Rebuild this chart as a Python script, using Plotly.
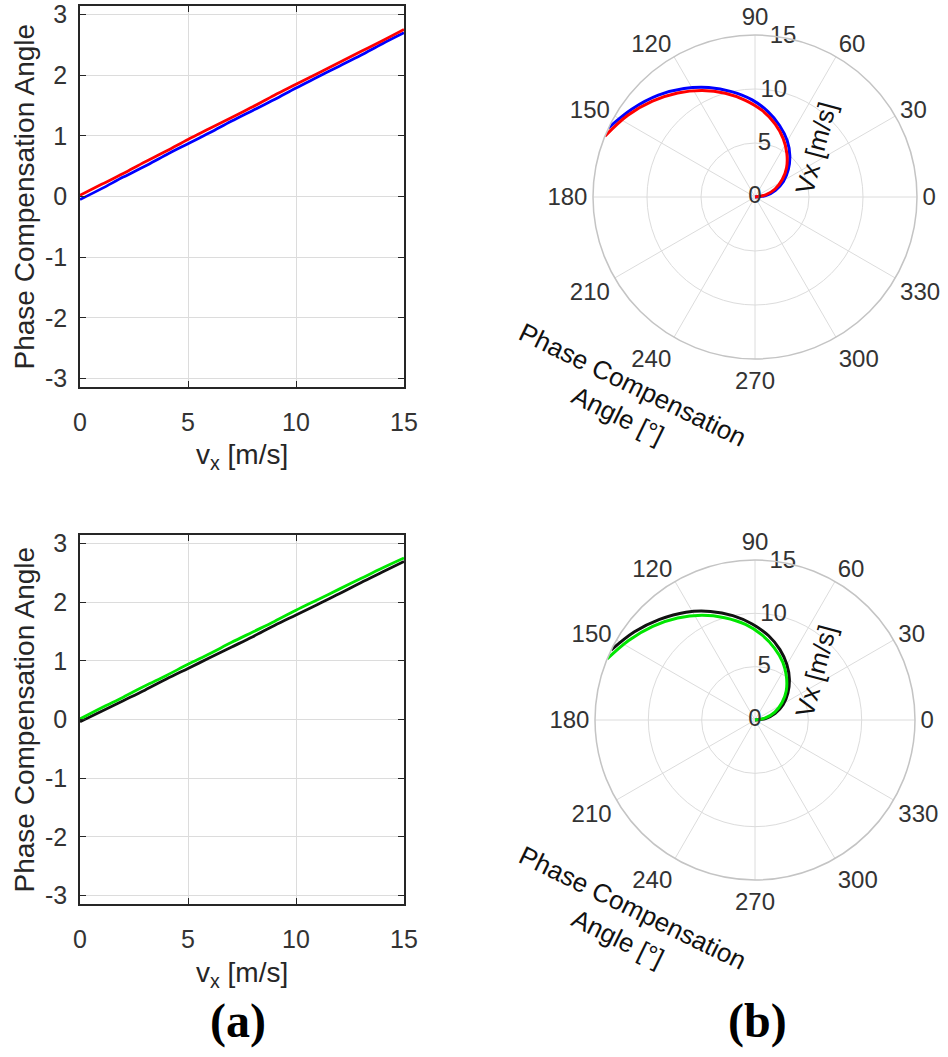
import numpy as np
import plotly.graph_objects as go

# ---------------- data ----------------
vx = [0, 1, 2, 3, 4, 5, 6, 7, 8, 9, 10, 11, 12, 13, 14, 15]
phase_red = [0.02, 0.20, 0.38, 0.57, 0.75, 0.94, 1.12, 1.30, 1.48, 1.67, 1.85, 2.03, 2.21, 2.39, 2.57, 2.756]
phase_blue = [-0.05, 0.13, 0.32, 0.50, 0.69, 0.87, 1.05, 1.24, 1.42, 1.60, 1.79, 1.97, 2.15, 2.33, 2.52, 2.70]
phase_green = [0.01, 0.20, 0.38, 0.57, 0.75, 0.94, 1.12, 1.31, 1.49, 1.67, 1.86, 2.04, 2.22, 2.40, 2.58, 2.75]
phase_black = [-0.04, 0.14, 0.32, 0.50, 0.69, 0.87, 1.05, 1.23, 1.41, 1.60, 1.78, 1.96, 2.14, 2.33, 2.51, 2.69]

x_ticks = [0, 5, 10, 15]
y_ticks = [-3, -2, -1, 0, 1, 2, 3]
y_ticklabels = ["-3", "-2", "-1", "0", "1", "2", "3"]
theta_ticks = [0, 30, 60, 90, 120, 150, 180, 210, 240, 270, 300, 330]
r_ticks = [0, 5, 10, 15]

W, H = 948, 1057
FONT = "Liberation Sans, Arial, sans-serif"
TICKC = "#333333"
GRIDC = "#dcdcdc"


def px(x):
    return min(max(x / W, 0.0), 1.0)


def py(y):
    return min(max(1 - y / H, 0.0), 1.0)


fig = go.Figure()

# ---------------- cartesian panels ----------------
panels = [
    ("x", "y", [(phase_blue, "#0000ff"), (phase_red, "#ff0000")]),
    ("x2", "y2", [(phase_black, "#111111"), (phase_green, "#00e600")]),
]
for xa, ya, series in panels:
    for vals, col in series:
        fig.add_trace(go.Scatter(x=vx, y=vals, mode="lines", xaxis=xa, yaxis=ya,
                                 line=dict(color=col, width=2.8, shape="spline"),
                                 showlegend=False, hoverinfo="skip"))

# ---------------- polar panels ----------------
polar_sets = [
    ("polar", [(phase_blue, "#0000ff"), (phase_red, "#ff0000")]),
    ("polar2", [(phase_black, "#111111"), (phase_green, "#00e600")]),
]
for sub, series in polar_sets:
    for vals, col in series:
        fig.add_trace(go.Scatterpolar(r=vx, theta=np.degrees(vals), mode="lines",
                                      subplot=sub,
                                      line=dict(color=col, width=3, shape="spline"),
                                      showlegend=False, hoverinfo="skip"))
    # radial tick labels along the 80 degree direction
    fig.add_trace(go.Scatterpolar(r=r_ticks, theta=[80] * len(r_ticks), mode="text",
                                  text=[str(t) for t in r_ticks], subplot=sub,
                                  textposition="middle center", cliponaxis=False,
                                  textfont=dict(family=FONT, size=24, color=TICKC),
                                  showlegend=False, hoverinfo="skip"))

axis_common = dict(showline=True, linecolor="#262626", linewidth=1.5, mirror="ticks",
                   ticks="inside", ticklen=6, tickcolor="#262626", showgrid=True,
                   gridcolor=GRIDC, gridwidth=1, zeroline=False, automargin=False,
                   ticklabeloverflow="allow",
                   tickfont=dict(family=FONT, size=25, color=TICKC))

cart_boxes = [  # (left, right, top, bottom) in px
    (80, 404, 6, 387),
    (80, 404, 535, 904),
]

layout = dict(width=W, height=H, margin=dict(l=0, r=0, t=0, b=0, autoexpand=False),
              paper_bgcolor="white", plot_bgcolor="white", showlegend=False,
              font=dict(family=FONT), hovermode=False)

for i, (l, r, t, b) in enumerate(cart_boxes):
    sfx = "" if i == 0 else str(i + 1)
    layout["xaxis" + sfx] = dict(axis_common, domain=[px(l), px(r)], anchor="y" + sfx,
                                 range=[0, 15], tickmode="array", tickvals=x_ticks,
                                 ticktext=[str(t) for t in x_ticks], ticklabelstandoff=12)
    layout["yaxis" + sfx] = dict(axis_common, domain=[py(b), py(t)], anchor="x" + sfx,
                                 range=[-np.pi, np.pi], tickmode="array", tickvals=y_ticks,
                                 ticktext=y_ticklabels, ticklabelstandoff=6)

polar_geo = [  # center x, center y, radius (px)
    (755, 197, 162),
    (755, 720, 160),
]
for i, (cx, cy, rad) in enumerate(polar_geo):
    sfx = "" if i == 0 else str(i + 1)
    layout["polar" + sfx] = dict(
        domain=dict(x=[px(cx - rad), px(cx + rad)], y=[py(cy + rad), py(cy - rad)]),
        bgcolor="white",
        angularaxis=dict(rotation=0, direction="counterclockwise", tickmode="array",
                         tickvals=theta_ticks, ticktext=[str(t) for t in theta_ticks],
                         ticks="", showgrid=True, gridcolor=GRIDC, gridwidth=1,
                         showline=True, linecolor="#c4c4c4", linewidth=1.5,
                         tickfont=dict(family=FONT, size=24, color=TICKC)),
        radialaxis=dict(range=[0, 15], tickvals=[5, 10, 15], showticklabels=False,
                        ticks="", showline=False, showgrid=True, gridcolor=GRIDC,
                        gridwidth=1),
    )

fig.update_layout(**layout)

annotations = []
title_font = dict(family=FONT, size=28, color="#262626")
for (l, r, t, b) in cart_boxes:
    annotations.append(dict(text="Phase Compensation Angle", x=px(24), y=py((t + b) / 2),
                            xref="paper", yref="paper", showarrow=False, textangle=-90,
                            font=title_font, xanchor="center", yanchor="middle"))
    annotations.append(dict(text="v<sub>x</sub> [m/s]", x=px((l + r) / 2), y=py(b + 70),
                            xref="paper", yref="paper", showarrow=False,
                            font=title_font, xanchor="center", yanchor="middle"))

for (cx, cy, rad) in polar_geo:
    annotations.append(dict(text="Vx [m/s]", x=px(cx + 61), y=py(cy - 49),
                            xref="paper", yref="paper", showarrow=False, textangle=-75,
                            font=dict(family=FONT, size=26, color="#111111"),
                            xanchor="center", yanchor="middle"))
    annotations.append(dict(text="Phase Compensation<br>Angle [°]", x=px(cx - 130),
                            y=py(cy + 203), xref="paper", yref="paper", showarrow=False,
                            textangle=26, align="center",
                            font=dict(family=FONT, size=26, color="#111111"),
                            xanchor="center", yanchor="middle"))

lab_font = dict(family="Liberation Serif, Times New Roman, serif", size=48, color="black")
annotations.append(dict(text="<b>(a)</b>", x=px(238), y=py(1021), xref="paper", yref="paper",
                        showarrow=False, font=lab_font, xanchor="center", yanchor="middle"))
annotations.append(dict(text="<b>(b)</b>", x=px(757), y=py(1021), xref="paper", yref="paper",
                        showarrow=False, font=lab_font, xanchor="center", yanchor="middle"))

fig.update_layout(annotations=annotations)

# remove the default 8px page margin so the figure sits at the window origin
fig.write_html("out.html", config={"displayModeBar": False},
               post_script="document.body.style.margin='0px';document.body.style.overflow='hidden';")
